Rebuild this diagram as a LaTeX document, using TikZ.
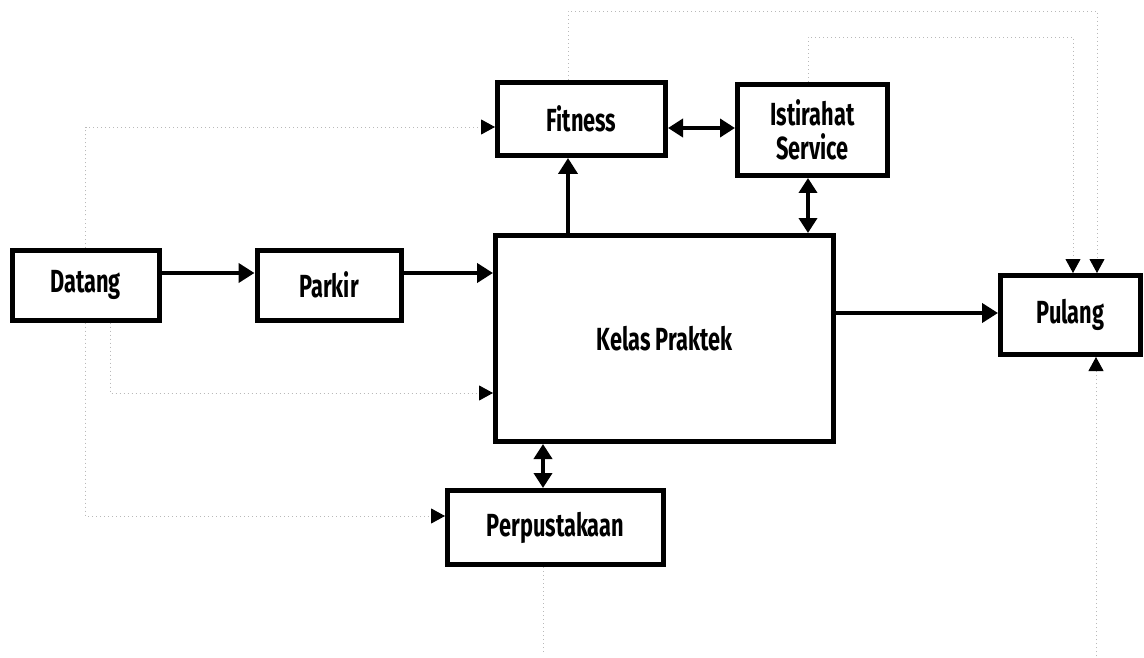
\documentclass[tikz,border=0pt]{standalone}
\usepackage{fontspec}
\usetikzlibrary{arrows.meta}
\newfontfamily\boxfont{Fira Sans}[FakeStretch=0.68]
\begin{document}
\begin{tikzpicture}[x=1pt,y=-1pt,
  box/.style={draw, line width=5pt, inner sep=0pt, align=center,
    font=\boxfont\bfseries\fontsize{32}{34}\selectfont},
  flow/.style={line width=4pt, -{Triangle[length=16pt,width=19pt]}},
  both/.style={line width=4pt,
    {Triangle[length=15pt,width=18pt]}-{Triangle[length=15pt,width=18pt]}},
  trace/.style={gray!55, line width=0.9pt, dash pattern=on 1pt off 3pt},
  tracearrow/.style={trace, -{Triangle[length=14pt,width=15pt,color=black]}}]

\fill[white] (0,0) rectangle (1144,658);
\useasboundingbox (0,0) rectangle (1144,658);

% main blocks
\node[box, minimum width=147pt, minimum height=70pt] (datang) at (85.5,285) {Datang};
\node[box, minimum width=144pt, minimum height=70pt] (parkir) at (329,285) {Parkir};
\node[box, minimum width=338pt, minimum height=206pt] (kelas) at (664.5,338.5) {\raisebox{-6pt}{Kelas Praktek}};
\node[box, minimum width=168pt, minimum height=73pt] (fitness) at (581.5,119) {Fitness};
\node[box, minimum width=150pt, minimum height=91pt] (istirahat) at (812.5,130) {Istirahat\\Service};
\node[box, minimum width=140pt, minimum height=79pt] (pulang) at (1070.5,315) {\raisebox{4pt}{Pulang}};
\node[box, minimum width=216pt, minimum height=74pt] (perpus) at (555.5,527.5) {Perpustakaan};

% solid flow
\draw[flow] ([yshift=12pt]datang.east) -- ([yshift=12pt]parkir.west);
\draw[flow] ([yshift=12pt]parkir.east) -- ([yshift=12pt]parkir.east -| kelas.west);
\draw[flow] ([yshift=25.5pt]kelas.east) -- ([yshift=25.5pt]kelas.east -| pulang.west);
\draw[flow] ([xshift=-96.5pt]kelas.north) -- ([xshift=-96.5pt]kelas.north |- fitness.south);
\draw[both] ([yshift=-9pt]fitness.east) -- ([yshift=-9pt]fitness.east -| istirahat.west);
\draw[both] ([xshift=-4.5pt]istirahat.south) -- ([xshift=-4.5pt]istirahat.south |- kelas.north);
\draw[both] ([xshift=-12.5pt]perpus.north) -- ([xshift=-12.5pt]perpus.north |- kelas.south);

% faint dotted routes
\coordinate (r1) at (1097,11);
\coordinate (r2) at (1073,37);
\coordinate (b1) at (1096,656);
\draw[tracearrow] (datang.north) |- ([yshift=-8pt]fitness.west);
\draw[tracearrow] ([xshift=24.5pt]datang.south) |- ([yshift=-54.5pt]kelas.west);
\draw[tracearrow] (datang.south) |- ([yshift=11.5pt]perpus.west);
\draw[tracearrow] ([xshift=-13.5pt]fitness.north) |- (r1) -- (r1 |- pulang.north);
\draw[tracearrow] ([xshift=-4.5pt]istirahat.north) |- (r2) -- (r2 |- pulang.north);
\draw[tracearrow] (b1) -- (b1 |- pulang.south);
\draw[trace] ([xshift=-12.5pt]perpus.south) -- ++(0,86);
\end{tikzpicture}
\end{document}
